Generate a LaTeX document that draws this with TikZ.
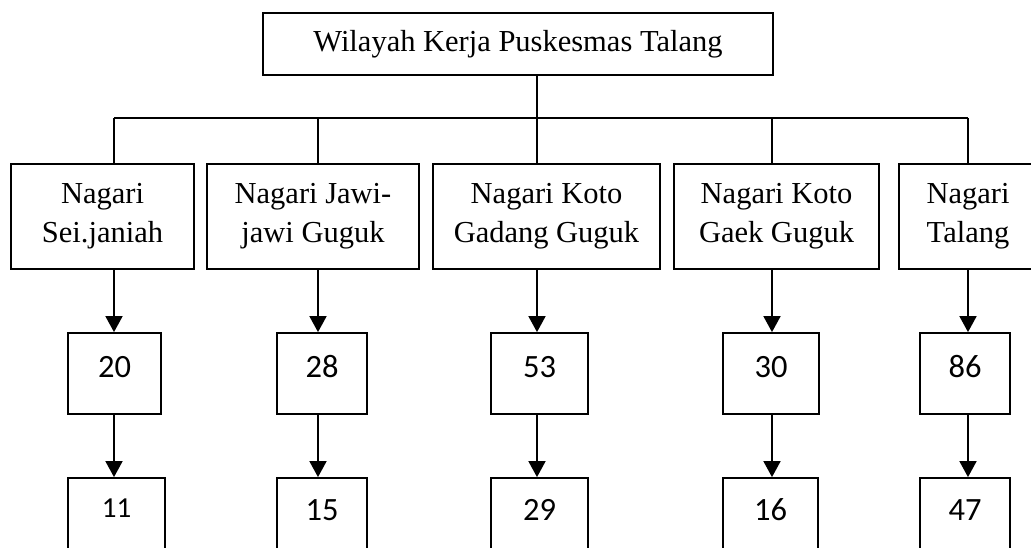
\documentclass[tikz,border=0pt]{standalone}
\usepackage{fontspec}
\setmainfont{Liberation Serif}
\newfontfamily\numfont{Carlito}
\usetikzlibrary{arrows.meta}
\begin{document}
\begin{tikzpicture}[x=1pt,y=-1pt,
  line width=1.8pt,
  box/.style={draw, rectangle, inner sep=0pt, font=\fontsize{30.5}{39}\selectfont, align=center},
  numbox/.style={draw, rectangle, inner sep=0pt, font=\numfont\fontsize{32.5}{38}\selectfont, text height=21pt},
  midbox/.style={numbox, minimum height=81pt, text depth=14pt},
  lowbox/.style={numbox, minimum height=102pt, text depth=39pt},
  arr/.style={-{Triangle[width=17pt,length=16pt]}},
  ]
\path[use as bounding box] (0,0) rectangle (1031,548);
\clip (0,0) rectangle (1031,548);

% top
\node[box, minimum width=510pt, minimum height=62pt] (top) at (518,44) {Wilayah Kerja Puskesmas Talang};

% level 2
\node[box, minimum width=183pt, minimum height=105pt] (sei) at (102.5,216.5) {Nagari\\Sei.janiah};
\node[box, minimum width=212pt, minimum height=105pt] (jawi) at (313,216.5) {Nagari Jawi-\\jawi Guguk};
\node[box, minimum width=227pt, minimum height=105pt] (gadang) at (546.5,216.5) {Nagari Koto\\Gadang Guguk};
\node[box, minimum width=205pt, minimum height=105pt] (gaek) at (776.5,216.5) {Nagari Koto\\Gaek Guguk};
\node[box, minimum width=138pt, minimum height=105pt] (talang) at (968,216.5) {Nagari\\Talang};

% level 3
\node[midbox, minimum width=93pt] (n20) at (114.5,373.5) {20};
\node[midbox, minimum width=90pt] (n28) at (322,373.5) {28};
\node[midbox, minimum width=97pt] (n53) at (539.5,373.5) {53};
\node[midbox, minimum width=96pt] (n30) at (771,373.5) {30};
\node[midbox, minimum width=90pt] (n86) at (965,373.5) {86};

% level 4
\node[lowbox, minimum width=97pt, font=\numfont\fontsize{29}{34}\selectfont, text height=18.5pt, text depth=41.5pt] (n11) at (116.5,529) {11};
\node[lowbox, minimum width=90pt] (n15) at (322,529) {15};
\node[lowbox, minimum width=97pt] (n29) at (539.5,529) {29};
\node[lowbox, minimum width=95pt] (n16) at (770.5,529) {16};
\node[lowbox, minimum width=90pt] (n47) at (965,529) {47};

% bus
\coordinate (c1) at (114,118);
\coordinate (c2) at (318,118);
\coordinate (c3) at (537,118);
\coordinate (c4) at (772,118);
\coordinate (c5) at (968,118);

\draw (top.south -| c3) -- (c3);
\draw (c1) -- (c5);
\draw (c1) -- (sei.north -| c1);
\draw (c2) -- (jawi.north -| c2);
\draw (c3) -- (gadang.north -| c3);
\draw (c4) -- (gaek.north -| c4);
\draw (c5) -- (talang.north -| c5);

% arrows
\draw[arr] (sei.south -| c1) -- (n20.north -| c1);
\draw[arr] (jawi.south -| c2) -- (n28.north -| c2);
\draw[arr] (gadang.south -| c3) -- (n53.north -| c3);
\draw[arr] (gaek.south -| c4) -- (n30.north -| c4);
\draw[arr] (talang.south -| c5) -- (n86.north -| c5);

\draw[arr] (n20.south -| c1) -- (n11.north -| c1);
\draw[arr] (n28.south -| c2) -- (n15.north -| c2);
\draw[arr] (n53.south -| c3) -- (n29.north -| c3);
\draw[arr] (n30.south -| c4) -- (n16.north -| c4);
\draw[arr] (n86.south -| c5) -- (n47.north -| c5);
\end{tikzpicture}
\end{document}
